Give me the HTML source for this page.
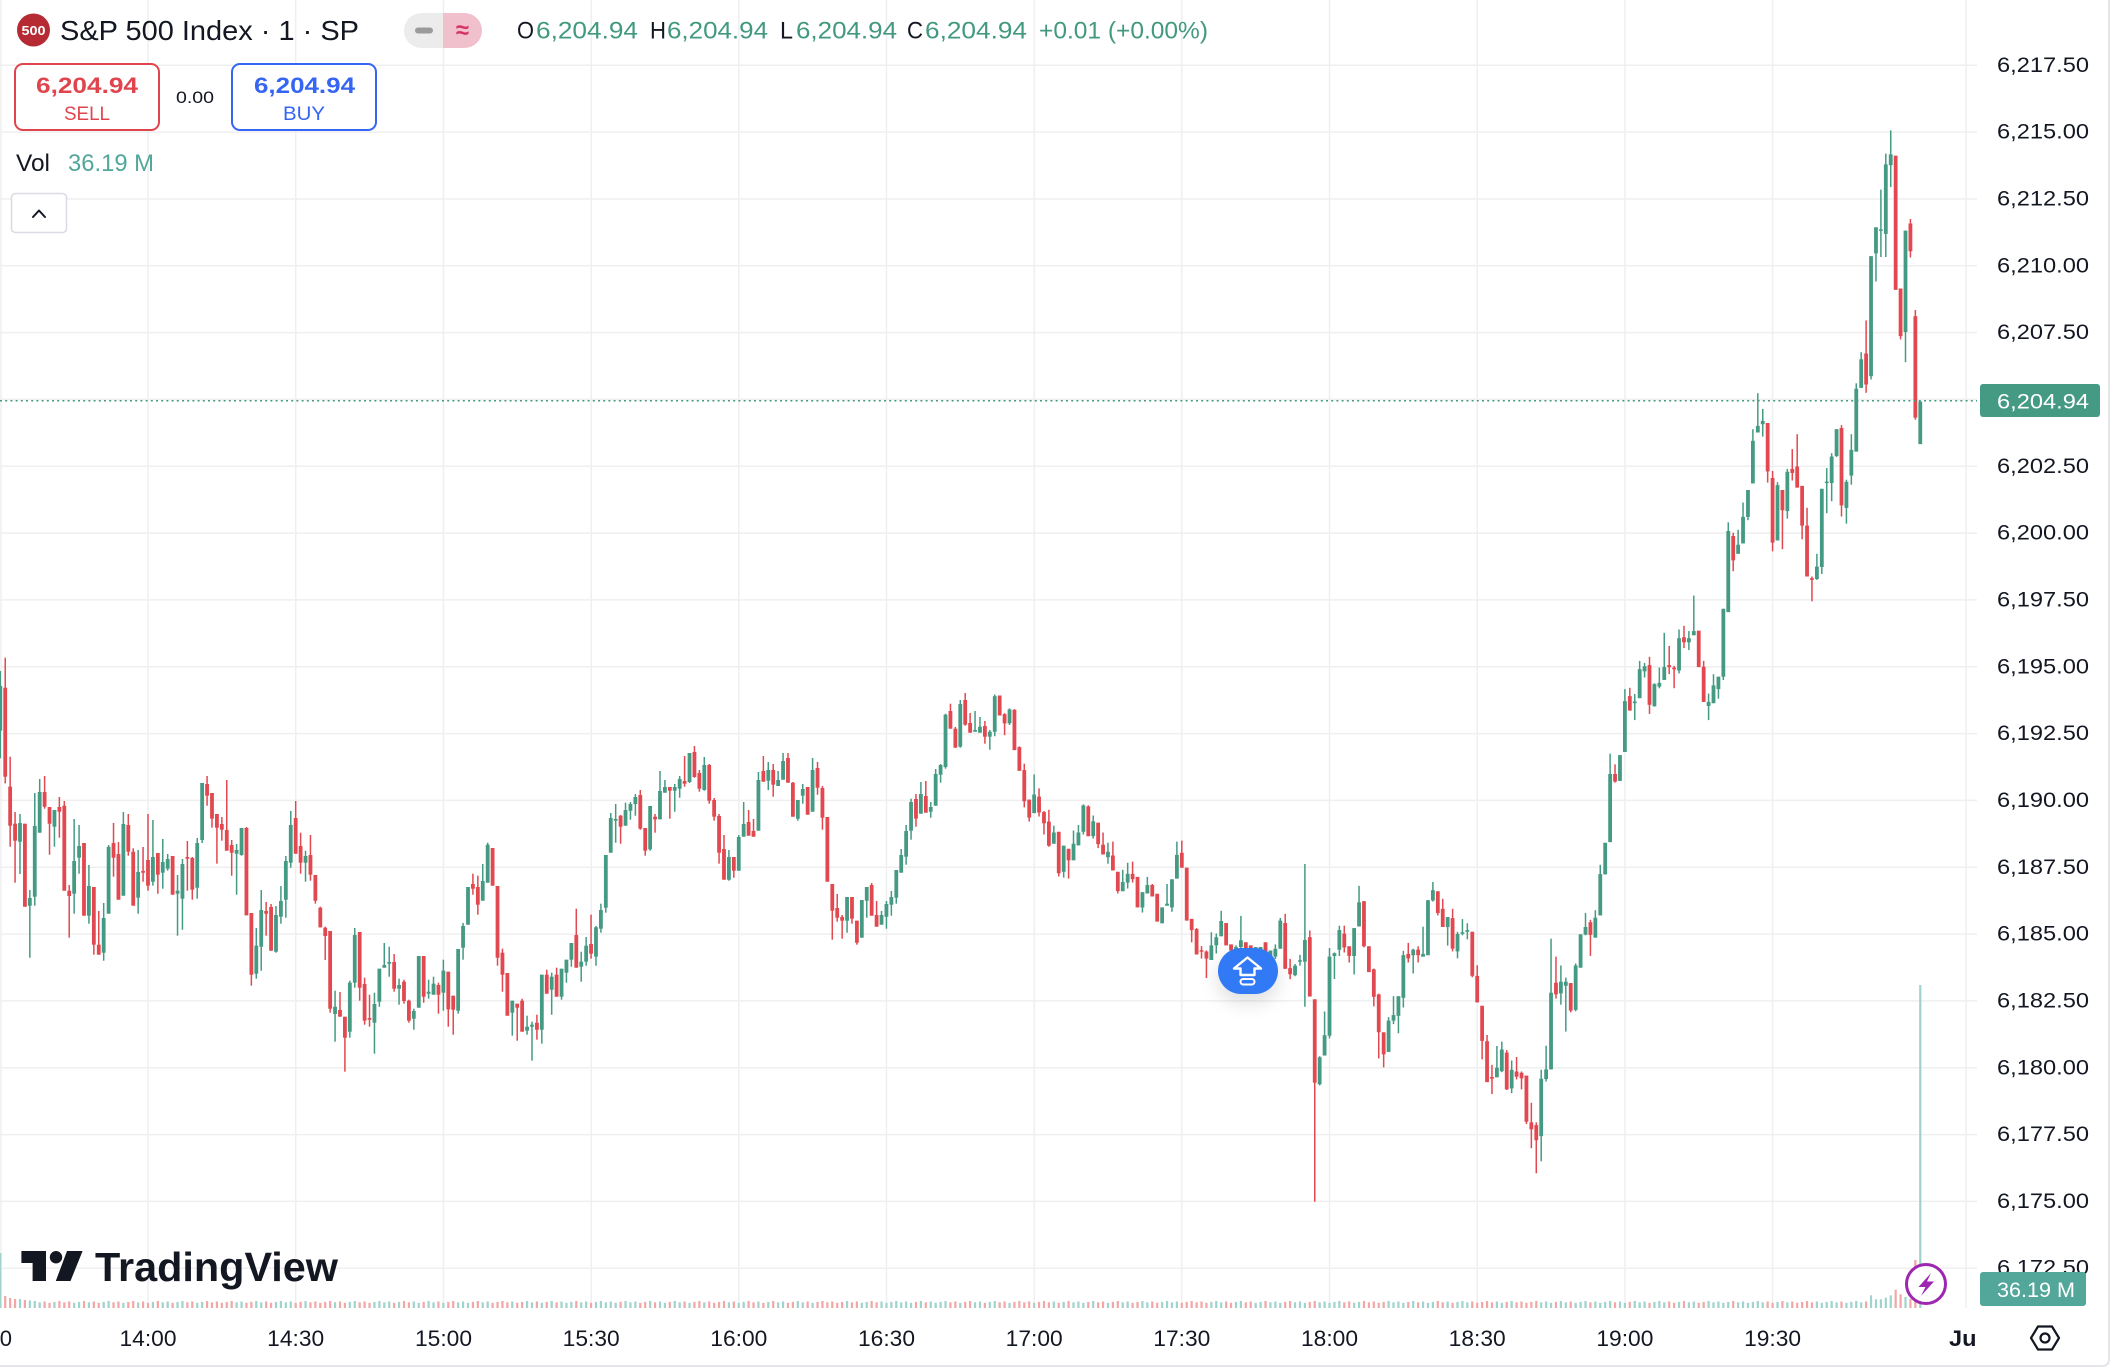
<!DOCTYPE html>
<html>
<head>
<meta charset="utf-8">
<style>
  html,body{margin:0;padding:0;background:#fff;}
  body{width:2112px;height:1370px;overflow:hidden;}
  svg{display:block;}
  text{font-family:"Liberation Sans","DejaVu Sans",sans-serif;}
</style>
</head>
<body>
<svg id="chart" xmlns="http://www.w3.org/2000/svg" width="2112" height="1370" viewBox="0 0 2112 1370">
  <defs>
    <clipPath id="paneClip"><rect x="0" y="0" width="1977" height="1308"/></clipPath>
    <clipPath id="timeClip"><rect x="0" y="1310" width="1977" height="55"/></clipPath>
    <clipPath id="pillClip"><rect x="404" y="13" width="78" height="35" rx="17.5"/></clipPath>
    <filter id="shadow" x="-60%" y="-60%" width="220%" height="260%">
      <feDropShadow dx="0" dy="8" stdDeviation="9" flood-color="#000" flood-opacity="0.13"/>
    </filter>
  </defs>
  <rect x="0" y="0" width="2112" height="1370" fill="#ffffff"/>
  <g id="grid"></g>
  <g id="vol" clip-path="url(#paneClip)"></g>
  <g id="candles" clip-path="url(#paneClip)"></g>
  <!-- current price dotted line -->
  <line x1="0" y1="400.8" x2="1977" y2="400.8" stroke="#459a83" stroke-width="1.5" stroke-dasharray="2 3.2"/>

  <!-- header -->
  <circle cx="33.5" cy="30" r="16.5" fill="#b52a33"/>
  <text x="33.5" y="35" font-size="13" font-weight="bold" fill="#fff" text-anchor="middle" textLength="24" lengthAdjust="spacingAndGlyphs">500</text>
  <text x="60" y="40" font-size="28" fill="#131722" textLength="299" lengthAdjust="spacingAndGlyphs">S&amp;P 500 Index · 1 · SP</text>
  <g clip-path="url(#pillClip)">
    <rect x="404" y="13" width="39" height="35" fill="#ececec"/>
    <rect x="443" y="13" width="39" height="35" fill="#f1c0cd"/>
  </g>
  <rect x="415" y="27.5" width="18" height="6" rx="3" fill="#9a9a9a"/>
  <text x="462.5" y="38" font-size="24" font-weight="bold" fill="#d63366" text-anchor="middle">≈</text>

  <g font-size="24">
    <text x="517" y="38.5" fill="#131722" textLength="17" lengthAdjust="spacingAndGlyphs">O</text>
    <text x="536" y="38.5" fill="#43997f" textLength="102" lengthAdjust="spacingAndGlyphs">6,204.94</text>
    <text x="650" y="38.5" fill="#131722" textLength="16" lengthAdjust="spacingAndGlyphs">H</text>
    <text x="667" y="38.5" fill="#43997f" textLength="101" lengthAdjust="spacingAndGlyphs">6,204.94</text>
    <text x="780" y="38.5" fill="#131722" textLength="13" lengthAdjust="spacingAndGlyphs">L</text>
    <text x="796" y="38.5" fill="#43997f" textLength="101" lengthAdjust="spacingAndGlyphs">6,204.94</text>
    <text x="907" y="38.5" fill="#131722" textLength="16" lengthAdjust="spacingAndGlyphs">C</text>
    <text x="925" y="38.5" fill="#43997f" textLength="102" lengthAdjust="spacingAndGlyphs">6,204.94</text>
    <text x="1039" y="38.5" fill="#43997f" textLength="169" lengthAdjust="spacingAndGlyphs">+0.01 (+0.00%)</text>
  </g>

  <!-- sell / buy -->
  <rect x="15" y="64" width="144" height="66" rx="8" fill="#fff" stroke="#e0454e" stroke-width="2"/>
  <text x="36" y="93" font-size="22" font-weight="bold" fill="#e0454e" textLength="102" lengthAdjust="spacingAndGlyphs">6,204.94</text>
  <text x="64" y="120" font-size="19" fill="#e0454e" textLength="46" lengthAdjust="spacingAndGlyphs">SELL</text>
  <text x="176" y="103" font-size="17" fill="#131722" textLength="38" lengthAdjust="spacingAndGlyphs">0.00</text>
  <rect x="232" y="64" width="144" height="66" rx="8" fill="#fff" stroke="#3565f2" stroke-width="2"/>
  <text x="254" y="93" font-size="22" font-weight="bold" fill="#3565f2" textLength="101" lengthAdjust="spacingAndGlyphs">6,204.94</text>
  <text x="283" y="120" font-size="19" fill="#3565f2" textLength="42" lengthAdjust="spacingAndGlyphs">BUY</text>

  <text x="16" y="171" font-size="24" fill="#131722" textLength="34" lengthAdjust="spacingAndGlyphs">Vol</text>
  <text x="68" y="171" font-size="24" fill="#52a69a" textLength="86" lengthAdjust="spacingAndGlyphs">36.19 M</text>

  <rect x="11.5" y="193.5" width="55" height="39" rx="4" fill="#fff" stroke="#d9dce3" stroke-width="1.5"/>
  <polyline points="33,217 39,210.5 45,217" fill="none" stroke="#131722" stroke-width="2" stroke-linejoin="round" stroke-linecap="round"/>

  <!-- price axis -->
  <g id="paxis" font-size="21" fill="#131722"></g>
  <rect x="1980" y="384" width="120" height="33" rx="3" fill="#459a83"/>
  <text x="1997" y="408.5" font-size="21" fill="#ffffff" textLength="92" lengthAdjust="spacingAndGlyphs">6,204.94</text>
  <rect x="1980" y="1272" width="106" height="34" rx="3" fill="#52a69a"/>
  <text x="1997" y="1297" font-size="21" fill="#ffffff" textLength="78" lengthAdjust="spacingAndGlyphs">36.19 M</text>

  <!-- time axis -->
  <g id="taxis" font-size="22" fill="#131722"></g>
  <g clip-path="url(#timeClip)">
    <text x="1949" y="1346" font-size="22" font-weight="bold" fill="#131722" textLength="34" lengthAdjust="spacingAndGlyphs">Jul</text>
  </g>
  <!-- settings hexagon -->
  <polygon points="2031,1338 2038,1326.5 2052,1326.5 2059,1338 2052,1349.5 2038,1349.5" fill="none" stroke="#131722" stroke-width="2.2" stroke-linejoin="round"/>
  <circle cx="2045" cy="1338" r="4.5" fill="none" stroke="#131722" stroke-width="2.2"/>

  <!-- borders -->
  <path d="M0,1366 L2102,1366 Q2109,1366 2109,1359 L2109,0" fill="none" stroke="#e3e5ea" stroke-width="2"/>

  <!-- TradingView logo -->
  <g fill="#131722">
    <path d="M21.4,1251 H46 V1281 H32.6 V1263 H21.4 Z"/>
    <circle cx="56" cy="1257.2" r="6.2"/>
    <polygon points="67,1251 82.6,1251 70.5,1281 55.8,1281"/>
    <text x="95" y="1281" font-size="41" font-weight="bold" textLength="243" lengthAdjust="spacingAndGlyphs">TradingView</text>
  </g>

  <!-- purple lightning -->
  <circle cx="1926" cy="1284" r="19.5" fill="#ffffff" stroke="#9c27b0" stroke-width="3"/>
  <polygon points="1931,1273 1918.5,1287 1925.5,1287 1921,1296 1934,1281.5 1927,1281.5 1931,1273" fill="#9c27b0"/>

  <!-- blue button -->
  <rect x="1218" y="948" width="60" height="46" rx="23" fill="#3179f5" filter="url(#shadow)"/>
  <path d="M1247.5,957.5 L1261,968.5 L1254.5,968.5 L1254.5,975 L1240.5,975 L1240.5,968.5 L1234,968.5 Z" fill="none" stroke="#ffffff" stroke-width="2.4" stroke-linejoin="round"/>
  <rect x="1240.5" y="979" width="14" height="5.5" rx="2.7" fill="none" stroke="#ffffff" stroke-width="2"/>
</svg>

<script>
(function(){
  var GREEN='#459a83', RED='#e2484f', VG='#9fd3cc', VR='#f2a6a6';
  function Y(p){return 666.7+(6195-p)*26.73;}
  var X=function(i){return 0.3+4.923*i;};

  // grid
  var g='';
  for(var k=0;k<19;k++){var y=65.3+66.83*k; g+='<line x1="0" y1="'+y.toFixed(1)+'" x2="1977" y2="'+y.toFixed(1)+'" stroke="#efefef" stroke-width="1.5"/>';}
  var vx=[1,148,295.7,443.5,591.2,738.8,886.5,1034.2,1181.8,1329.5,1477.2,1624.9,1772.6,1966];
  vx.forEach(function(x){g+='<line x1="'+x+'" y1="0" x2="'+x+'" y2="1308" stroke="#efefef" stroke-width="1.5"/>';});
  document.getElementById('grid').innerHTML=g;

  // price axis labels
  var pa='';
  for(var k=0;k<19;k++){
    var p=6217.5-2.5*k; var y=65.3+66.83*k;
    var s=p.toFixed(2); s=s.charAt(0)+','+s.slice(1);
    pa+='<text x="1997" y="'+(y+6.5).toFixed(1)+'" textLength="92" lengthAdjust="spacingAndGlyphs">'+s+'</text>';
  }
  document.getElementById('paxis').innerHTML=pa;

  // time axis
  var ta='<text x="12" y="1346" text-anchor="end">13:30</text>';
  var tl=['14:00','14:30','15:00','15:30','16:00','16:30','17:00','17:30','18:00','18:30','19:00','19:30'];
  tl.forEach(function(t,j){ta+='<text x="'+vx[j+1]+'" y="1346" text-anchor="middle" textLength="57" lengthAdjust="spacingAndGlyphs">'+t+'</text>';});
  document.getElementById('taxis').innerHTML=ta;

  var segs=[
  {s:0,f:function(z){return 640+z/3;},d:[
  [1,138,272,93,355],[0,143,410,53,430],[0,440,557,350,620],[0,551,602,516,728],[1,549,605,522,702],
  [0,551,800,551,800],[1,774,797,750,953],[1,558,770,459,797],[1,456,578,417,578],[0,456,500,408,506],
  [0,501,551,501,644],[1,510,560,510,620],[0,501,515,471,593],[0,497,752,483,752],[0,752,768,735,893],
  [1,663,761,537,821],[1,618,653,555,701],[0,609,827,609,827],[1,738,827,675,851],[0,741,914,741,944],
  [0,914,944,813,944],[1,834,938,789,962],[1,621,821,615,821],[0,609,653,549,710],[0,642,779,606,779],
  [1,552,767,516,767],[0,555,635,522,647],[0,635,797,625,797],[1,696,773,630,821],[0,693,698,621,725],
  [0,660,737,522,752],[1,651,725,540,737],[0,639,704,639,761],[1,666,698,597,746],[1,657,686,642,692],
  [0,648,764,648,764],[1,752,761,705,887],[1,672,776,657,869],[0,651,656,603,752],[0,654,749,651,779],
  [1,609,743,594,776],[1,429,600,429,609],[0,432,467,408,497],[0,459,536,459,563],[0,522,563,522,671],
  [0,552,569,531,602],[0,570,632,420,632],[0,615,638,600,707],[1,630,641,612,764],[1,564,645,564,647],
  [0,564,826,561,826],[0,819,1004,819,1037],[1,917,1001,864,1016],[1,810,920,750,992],[0,813,821,786,887],
  [0,801,932,792,932],[1,825,935,798,938],[1,783,830,738,851],[1,663,779,648,833],[1,555,668,513,683],
  [0,534,641,483,641],[0,618,668,578,701],[1,648,668,632,725],[0,645,704,585,722],[0,705,782,705,791]]},
  {s:65,f:function(z){return 720+z/3;},d:[
  [0,563,622,560,622],[0,623,648,620,720],[0,633,866,633,878],[1,860,882,812,965],[0,870,890,816,890],
  [0,890,953,890,1055],[1,788,935,782,953],[1,645,788,624,803],[0,636,803,636,842],[0,792,902,773,914],
  [0,894,899,824,920],[1,852,908,818,1001],[1,746,845,746,860],[1,735,743,669,743],[1,726,731,680,770],
  [0,726,806,702,815],[1,795,806,776,854],[0,785,843,779,851],[0,842,902,839,908],[1,873,896,866,929],
  [1,708,863,708,863],[0,708,830,708,848],[1,815,821,779,836],[1,791,824,770,824],[0,795,824,788,881],
  [1,752,818,719,872],[0,755,868,755,920],[0,827,869,827,944],[1,687,872,687,881],[1,618,683,609,719],
  [1,501,614,501,614],[0,492,506,461,524],[0,501,554,467,584],[1,483,542,432,542],[1,374,488,368,488],
  [0,384,497,384,497],[0,498,713,498,737],[0,698,764,686,815],[0,759,887,759,887],[1,842,878,842,947],
  [0,851,863,851,962],[0,842,935,836,935],[1,920,932,887,944],[1,914,920,905,1022],[0,908,929,884,959],
  [1,764,929,764,971],[0,764,821,749,821],[1,770,809,758,884],[0,764,830,743,830],[1,746,830,746,839],
  [1,719,758,719,788],[1,669,719,669,740],[0,645,743,566,743],[1,725,740,695,785],[1,677,725,651,737],
  [0,672,701,584,716],[1,622,710,618,737],[1,570,626,551,638],[1,405,563,405,578],[1,294,398,279,398],
  [1,297,302,252,368],[0,287,320,285,371],[1,270,317,248,317],[1,252,272,246,299],[1,231,252,222,287],
  [0,225,326,210,329],[0,324,392,324,407]]},
  {s:132,f:function(z){return 680+z/3;},d:[
  [1,378,508,378,512],[0,410,418,402,458],[1,333,418,273,418],[1,321,338,300,338],[0,321,332,321,416],
  [1,321,332,312,395],[1,297,326,288,353],[0,303,311,228,320],[1,219,306,219,309],[0,216,291,198,293],
  [0,279,326,270,335],[1,255,330,231,332],[0,255,362,252,371],[0,360,410,354,422],[0,408,518,402,551],
  [0,507,599,465,599],[1,531,599,510,602],[0,531,572,531,593],[1,471,572,465,572],[1,432,470,366,470],
  [0,426,467,390,467],[0,453,470,417,470],[1,300,452,276,452],[0,273,305,228,305],[1,270,302,246,330],
  [0,270,314,252,350],[1,300,318,273,318],[1,243,299,219,299],[0,234,308,219,308],[0,308,410,306,410],
  [1,360,416,360,422],[1,327,347,312,371],[0,321,404,321,404],[1,270,395,234,395],[0,264,323,246,344],
  [0,324,413,318,449],[0,411,605,411,605],[0,612,692,612,779],[0,684,713,642,725],[0,711,722,705,776],
  [1,651,722,651,758],[0,651,716,651,731],[0,722,788,722,794],[1,660,773,660,773],[1,621,662,621,713],
  [0,615,707,609,707],[0,705,740,663,740],[1,705,734,693,734],[1,672,710,663,746],[1,651,674,633,707],
  [1,570,653,570,671],[1,525,578,507,578],[1,453,530,435,554],[1,366,452,356,479],[0,357,416,342,440],
  [1,342,401,306,401],[0,348,398,303,398],[1,381,395,366,413],[1,282,377,267,377],[1,255,284,252,308],
  [1,104,261,101,266],[0,93,146,71,146],[0,146,203,141,203],[1,72,200,60,203],[0,60,134,39,137],
  [0,129,158,99,158],[1,150,155,93,155],[1,140,158,111,158],[0,138,170,123,191],[1,155,170,150,209]]},
  {s:202,f:function(z){return 733.5+(z-160)*0.339;},d:[
  [1,50,155,45,168],[0,48,107,48,107],[0,103,130,100,165],[1,89,130,86,135],[0,90,209,88,209],
  [0,200,270,198,270],[0,268,360,249,378],[0,355,408,355,420],[1,340,395,281,395],[0,346,393,322,405],
  [0,392,425,389,458],[0,420,491,385,494],[1,452,485,432,485],[0,450,572,450,582],[1,491,568,491,585],
  [0,500,534,500,588],[1,485,534,446,534],[1,452,490,430,490],[1,372,450,369,458],[0,375,463,372,463],
  [1,419,463,402,470],[0,423,486,423,498],[0,488,517,452,517],[1,509,525,482,544],[0,520,564,479,564],
  [0,568,625,568,632],[1,598,625,562,625],[1,574,600,541,617],[0,574,590,538,600],[0,583,673,583,673],
  [1,628,673,628,688],[1,607,632,583,632],[0,607,641,604,641],[0,633,715,633,715],[1,673,720,673,720],
  [1,662,668,604,668],[1,590,673,590,686],[1,518,588,479,588],[0,512,556,476,556],[0,556,712,556,712],
  [0,707,740,707,776],[0,737,812,734,812],[0,800,803,787,824],[0,803,824,800,881],[1,785,828,746,828],
  [1,761,785,750,809],[1,713,758,683,758],[0,719,785,719,785],[0,782,800,782,810],[1,790,800,785,820],
  [1,770,790,698,800],[0,776,795,776,810],[0,785,800,785,820],[1,790,805,790,830],[1,790,800,790,820],
  [0,776,815,776,830],[1,800,820,800,840],[1,795,818,782,825],[1,712,795,704,795],[0,719,854,692,854],
  [0,852,870,825,885],[1,845,873,840,876],[1,829,833,813,845],[1,769,833,545,966],[0,761,936,741,936],
  [0,944,1190,944,1541],[1,1115,1195,1112,1198],[1,1050,1110,980,1110]]},
  {s:270,f:function(z){return 666.7+(z-77)*0.3439;},d:[
  [1,920,1150,895,1158],[1,910,918,908,985],[1,843,900,830,918],[0,853,893,830,908],[0,890,918,890,937],
  [1,837,918,837,972],[1,762,832,714,832],[0,759,890,759,893],[0,890,965,890,965],[0,957,1037,955,1065],
  [0,1030,1140,1028,1216],[0,1140,1204,1140,1242],[1,1106,1197,1096,1197],[1,1090,1106,1035,1116],[1,1035,1092,1035,1143],
  [1,916,1040,903,1068],[0,912,925,880,937],[1,900,916,897,969],[0,900,916,890,937],[1,912,920,833,920],
  [1,756,916,756,916],[1,727,757,703,760],[0,730,793,730,800],[0,781,834,752,834],[1,805,834,805,888],
  [0,808,897,781,905],[1,854,905,848,925],[1,850,853,811,858],[1,843,848,823,870],[0,848,976,848,980],
  [0,976,1053,945,1053],[0,1063,1165,1063,1219],[0,1166,1285,1148,1285],[0,1270,1275,1235,1320],[1,1243,1271,1180,1271],
  [1,1190,1253,1167,1256],[0,1199,1306,1192,1308],[1,1249,1303,1222,1317],[0,1254,1269,1212,1277],[0,1258,1274,1254,1306],
  [0,1266,1400,1266,1407],[0,1402,1422,1345,1477],[0,1410,1454,1402,1550],[1,1275,1442,1249,1515],[1,1248,1276,1179,1283],
  [1,1025,1248,868,1248],[0,996,1030,920,1042],[1,993,1027,946,1060],[1,993,1005,981,1138],[0,997,1077,997,1082],
  [1,946,1075,940,1079],[1,855,952,855,952],[1,834,856,793,858],[0,820,857,813,918],[1,807,865,785,865],
  [1,680,800,653,800],[1,589,681,589,681],[1,389,587,330,587],[0,389,411,361,414],[1,334,409,334,409],
  [1,177,325,142,325]]},
  {s:331,f:function(z){return 132.1+(z-52)*0.4138;},d:[
  [0,1415,1450,1395,1450],[1,1428,1432,1410,1473],[1,1350,1420,1330,1420],[1,1343,1355,1335,1370],[0,1340,1436,1320,1458],
  [1,1386,1440,1384,1440],[1,1383,1392,1346,1396],[1,1345,1376,1262,1376],[0,1340,1345,1294,1362],[0,1346,1350,1342,1396],
  [1,1275,1353,1254,1360],[0,1273,1285,1245,1299],[1,1275,1285,1258,1304],[1,1258,1268,1172,1268],[0,1257,1345,1257,1345],
  [0,1344,1429,1330,1429],[1,1429,1439,1409,1473],[1,1389,1432,1362,1432],[1,1368,1398,1368,1421],[1,1204,1368,1204,1376],
  [1,1016,1212,995,1212],[0,1028,1087,1020,1113],[1,1049,1071,1013,1071],[1,982,1046,947,1046],[1,917,982,917,990],
  [1,798,901,770,901],[1,762,778,683,778],[1,750,758,721,788],[0,755,872,755,899],[0,888,1044,871,1065],
  [1,905,1039,898,1039],[0,917,966,917,1060],[1,873,968,866,986],[0,866,876,818,894],[0,860,911,782,911],
  [0,907,1003,907,1036],[0,1003,1126,960,1126],[0,1130,1134,1126,1186],[1,1102,1132,1071,1134],[1,914,1103,914,1120],
  [1,897,900,864,973],[1,836,900,828,944],[1,770,835,770,837],[0,767,954,760,981],[1,897,960,892,998],
  [1,820,882,782,904],[1,672,824,659,824],[1,601,670,584,670],[0,587,662,507,682],[1,352,642,352,650],
  [1,282,345,282,413],[1,288,290,191,354],[1,130,298,104,354],[1,106,132,48,185],[0,109,433,109,433],
  [0,430,545,430,553],[1,290,535,290,608],[0,273,340,262,355],[0,497,742,482,747],[1,703,806,703,806]]}
  ];

  var dirs=[];
  var c='';
  segs.forEach(function(sg){
    sg.d.forEach(function(a,k){
      var i=sg.s+k, x=X(i), col=a[0]?GREEN:RED;
      dirs[i]=a[0];
      var bt=sg.f(a[1]), bb=sg.f(a[2]), wt=sg.f(a[3]), wb=sg.f(a[4]);
      if(bb-bt<1.5){var m=(bt+bb)/2; bt=m-0.75; bb=m+0.75;}
      c+='<rect x="'+(x-0.75).toFixed(2)+'" y="'+wt.toFixed(1)+'" width="1.5" height="'+Math.max(1,(wb-wt)).toFixed(1)+'" fill="'+col+'"/>';
      c+='<rect x="'+(x-1.9).toFixed(2)+'" y="'+bt.toFixed(1)+'" width="3.8" height="'+(bb-bt).toFixed(1)+'" fill="'+col+'"/>';
    });
  });
  document.getElementById('candles').innerHTML=c;

  // volume
  var special={0:55,1:12,2:10,3:9,4:9,5:8,6:7.5,380:12.7,381:8.7,382:8.7,383:10.3,384:12.7,385:18.3,386:13.7,387:11,388:9,389:48,390:323};
  var v='';
  for(var i=0;i<=390;i++){
    var h=special.hasOwnProperty(i)?special[i]:(5.2+((i*7)%5)*0.45);
    var col=dirs[i]?VG:VR;
    v+='<rect x="'+(X(i)-1.1).toFixed(2)+'" y="'+(1308-h).toFixed(1)+'" width="2.2" height="'+h.toFixed(1)+'" fill="'+col+'"/>';
  }
  document.getElementById('vol').innerHTML=v;
})();
</script>
</body>
</html>
